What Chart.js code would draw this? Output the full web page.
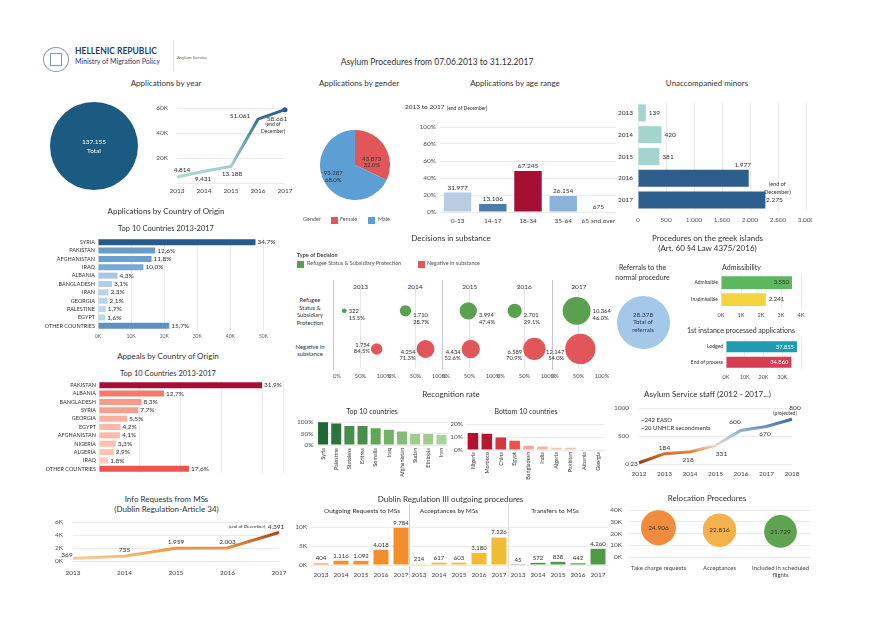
<!DOCTYPE html>
<html>
<head>
<meta charset="utf-8">
<script src="https://cdn.jsdelivr.net/npm/chart.js@4.4.1/dist/chart.umd.min.js"></script>
<style>
html, body { margin: 0; background: #fff; }
#board { position: relative; width: 877px; height: 620px; overflow: hidden; font-family: Lato, "Open Sans", sans-serif; color: #333; }
#board canvas { position: absolute; }
.t { position: absolute; white-space: nowrap; line-height: 1; }
.bx { position: absolute; }
</style>
</head>
<body>
<div id="board"></div>
<script>
// ---- data ----
const yearLabels = ['2013', '2014', '2015', '2016', '2017'];
const applicationsByYear = [4814, 9431, 13188, 51061, 58661];
const totalApplications = 137155;

const genderLabels = ['Female', 'Male'];
const genderCounts = [43873, 93287];
const genderShares = [32.0, 68.0];

const ageLabels = ['0-13', '14-17', '18-34', '35-64', '65 and over'];
const ageCounts = [31977, 13106, 67245, 26154, 675];

const minorYears = ['2013', '2014', '2015', '2016', '2017'];
const minorCounts = [139, 420, 381, 1977, 2275];

const originCountries = ['SYRIA', 'PAKISTAN', 'AFGHANISTAN', 'IRAQ', 'ALBANIA', 'BANGLADESH', 'IRAN', 'GEORGIA', 'PALESTINE', 'EGYPT', 'OTHER COUNTRIES'];
const originShares = [34.7, 12.6, 11.8, 10.0, 4.3, 3.1, 2.3, 2.1, 1.7, 1.6, 15.7];
const originTicks = [0, 10000, 20000, 30000, 40000, 50000];

const decisionYears = ['2013', '2014', '2015', '2016', '2017'];
const refugeeCounts = [322, 1710, 3994, 2701, 10364];
const negativeCounts = [1754, 4254, 4434, 6589, 12147];

const referralsTotal = 28378;
const admissLabels = ['Admissible', 'Inadmissible'];
const admissCounts = [3550, 2241];
const instanceLabels = ['Lodged', 'End of process'];
const instanceCounts = [37855, 34860];

const appealCountries = ['PAKISTAN', 'ALBANIA', 'BANGLADESH', 'SYRIA', 'GEORGIA', 'EGYPT', 'AFGHANISTAN', 'NIGERIA', 'ALGERIA', 'IRAQ', 'OTHER COUNTRIES'];
const appealShares = [31.9, 12.7, 8.3, 7.7, 5.5, 4.2, 4.1, 3.3, 2.9, 1.8, 17.6];

const topCountries = ['Syria', 'Palestine', 'Stateless', 'Eritrea', 'Somalia', 'Iraq', 'Afghanistan', 'Sudan', 'Ethiopia', 'Iran'];
const topRates = [99, 94, 83, 83, 73, 67, 59, 48, 48, 44];
const bottomCountries = ['Nigeria', 'Morocco', 'China', 'Egypt', 'Bangladesh', 'India', 'Algeria', 'Pakistan', 'Albania', 'Georgia'];
const bottomRates = [13.0, 12.5, 9.7, 7.2, 3.3, 2.6, 1.8, 1.8, 0.3, 0.2];

const staffYears = ['2012', '2013', '2014', '2015', '2016', '2017', '2018'];
const staffCounts = [23, 184, 218, 331, 600, 670, 800];

const infoYears = ['2013', '2014', '2015', '2016', '2017'];
const infoRequests = [369, 735, 1959, 2003, 4391];

const dublinYears = ['2013', '2014', '2015', '2016', '2017'];
const outgoingRequests = [404, 1116, 1092, 4018, 9784];
const acceptances = [214, 617, 603, 3180, 7226];
const transfers = [45, 572, 838, 442, 4260];

const relocationLabels = ['Take charge requests', 'Acceptances', 'Included in scheduled flights'];
const relocationCounts = [24906, 22816, 21729];

// ---- helpers ----
const board = document.getElementById('board');
const FONT = 'Lato, "Open Sans", sans-serif';
Chart.defaults.font.family = FONT;
Chart.defaults.font.size = 6.5;
Chart.defaults.color = '#555';
Chart.defaults.animation = false;
Chart.defaults.responsive = false;
Chart.defaults.maintainAspectRatio = false;
Chart.defaults.layout.autoPadding = false;
Chart.defaults.plugins.legend.display = false;
Chart.defaults.plugins.tooltip.enabled = false;

const fmt = n => String(Math.round(n)).replace(/\B(?=(\d{3})+(?!\d))/g, '.');
const pctComma = v => v.toFixed(1).replace('.', ',') + '%';
const pctDot = v => v.toFixed(1) + '%';

// fixed axis sizes so that each plot area lands where the dashboard has it
const fitY = w => s => { s.width = w; s.paddingTop = 0; s.paddingBottom = 0; };
const fitX = h => s => { s.height = h; s.paddingLeft = 0; s.paddingRight = 0; };

function T(s, x, y, o = {}) {
  const d = document.createElement('div');
  d.className = 't';
  d.textContent = s;
  const al = o.align || 'center';
  const tx = al === 'center' ? '-50%' : al === 'right' ? '-100%' : '0';
  d.style.left = x + 'px';
  d.style.top = y + 'px';
  d.style.fontSize = (o.size || 8) + 'px';
  d.style.color = o.color || '#333';
  d.style.fontWeight = o.bold ? 700 : 400;
  d.style.transform = `translate(${tx},-50%)`;
  board.appendChild(d);
}

function box(x, y, w, h, color, extra) {
  const d = document.createElement('div');
  d.className = 'bx';
  d.style.cssText = `left:${x}px;top:${y}px;width:${w}px;height:${h}px;background:${color};${extra || ''}`;
  board.appendChild(d);
}

function chart(x, y, w, h, cfg) {
  const c = document.createElement('canvas');
  c.width = w;
  c.height = h;
  c.style.left = x + 'px';
  c.style.top = y + 'px';
  board.appendChild(c);
  return new Chart(c, cfg);
}

function hex2rgb(h) {
  const n = parseInt(h.slice(1), 16);
  return [(n >> 16) & 255, (n >> 8) & 255, n & 255];
}
function ramp(stops, t) {
  t = Math.max(0, Math.min(1, t));
  for (let i = 1; i < stops.length; i++) {
    if (t <= stops[i][0]) {
      const a = hex2rgb(stops[i - 1][1]), b = hex2rgb(stops[i][1]);
      const u = (t - stops[i - 1][0]) / (stops[i][0] - stops[i - 1][0]);
      return 'rgb(' + a.map((v, k) => Math.round(v + (b[k] - v) * u)).join(',') + ')';
    }
  }
  return stops[stops.length - 1][1];
}

// gradient along the value axis, used by the line charts
function vGrad(stops, max) {
  return ctx => {
    const ch = ctx.chart;
    if (!ch.chartArea) return stops[0][1];
    const y = ch.scales.y;
    const g = ch.ctx.createLinearGradient(0, y.getPixelForValue(0), 0, y.getPixelForValue(max));
    stops.forEach(s => g.addColorStop(s[0], s[1]));
    return g;
  };
}

// value labels drawn next to the chart's own elements
Chart.register({
  id: 'markLabels',
  afterDatasetsDraw(ch) {
    const c = ch.ctx;
    ch.data.datasets.forEach((ds, di) => {
      if (!ds.marks) return;
      const meta = ch.getDatasetMeta(di);
      ds.marks.forEach(m => {
        const el = meta.data[m.i];
        if (!el) return;
        const p = m.center ? el.getCenterPoint() : { x: el.x, y: el.y };
        c.save();
        c.font = `${m.bold ? 'bold ' : ''}${m.size || 6.5}px ${FONT}`;
        c.fillStyle = m.color || '#333';
        c.textAlign = m.align || 'center';
        c.textBaseline = 'middle';
        c.fillText(m.text, p.x + (m.dx || 0), p.y + (m.dy || 0));
        c.restore();
      });
    });
  }
});

const noBorder = { display: false };
const hideGrid = { display: false, drawTicks: false };
const lightGrid = { color: '#ececec', drawTicks: false };

// ---- header ----
box(43, 47, 24, 23, 'transparent', 'border:1.5px solid #8a97ab;border-radius:50%');
box(50, 53, 10, 11, 'transparent', 'border:1px solid #8a97ab');
T('HELLENIC REPUBLIC', 75, 51, { size: 8.5, bold: true, color: '#1f3d6f', align: 'left' });
T('Ministry of Migration Policy', 75, 61, { size: 7, color: '#1f3d6f', align: 'left' });
box(173, 40, 1, 31, '#e2e2e2');
T('Asylum Service', 177, 58, { size: 4.5, color: '#555', align: 'left' });
T('Asylum Procedures from 07.06.2013 to 31.12.2017', 437, 62, { size: 8.5 });

// ---- applications by year ----
T('Applications by year', 166, 83);
chart(50, 102, 88, 88, {
  type: 'pie',
  data: { labels: ['Total'], datasets: [{ data: [totalApplications], backgroundColor: '#1b5b82', borderWidth: 0 }] }
});
T(fmt(totalApplications), 94, 142, { size: 6.5, color: '#fff' });
T('Total', 94, 151, { size: 6.5, color: '#fff' });

const yearMarks = [
  { i: 0, text: fmt(applicationsByYear[0]), dx: 5, dy: -7 },
  { i: 1, text: fmt(applicationsByYear[1]), dx: -1, dy: 8 },
  { i: 2, text: fmt(applicationsByYear[2]), dx: 1, dy: 7 },
  { i: 3, text: fmt(applicationsByYear[3]), dx: -18, dy: -3 },
  { i: 4, text: fmt(applicationsByYear[4]), dx: -8, dy: 9 },
  { i: 4, text: '(end of', dx: -12, dy: 15, size: 5 },
  { i: 4, text: 'December)', dx: -12, dy: 22, size: 5 }
];
chart(145, 100, 150, 97, {
  type: 'line',
  data: {
    labels: yearLabels,
    datasets: [{
      data: applicationsByYear,
      borderColor: vGrad([[0, '#b3ded7'], [0.25, '#9ccfc7'], [0.85, '#3d6f9a'], [1, '#2a5a8c']], 60000),
      borderWidth: 3,
      pointRadius: [0, 0, 0, 0, 2.5],
      pointBackgroundColor: '#2a5a8c',
      pointBorderWidth: 0,
      clip: false,
      marks: yearMarks
    }]
  },
  options: {
    layout: { padding: { top: 8, right: 10 } },
    scales: {
      x: { offset: false, grid: hideGrid, border: noBorder, ticks: { padding: 4, color: '#444' }, afterFit: fitX(14) },
      y: { min: 0, max: 60000, grid: lightGrid, border: noBorder,
        ticks: { stepSize: 20000, padding: 9, autoSkip: false, callback: v => (v ? v / 1000 + 'K' : '') },
        afterFit: fitY(32) }
    }
  }
});

// ---- applications by gender ----
T('Applications by gender', 359, 83);
chart(320, 130, 70, 70, {
  type: 'pie',
  data: {
    labels: genderLabels,
    datasets: [{
      data: genderCounts,
      backgroundColor: ['#e15759', '#5b9fd4'],
      borderWidth: 0,
      marks: [
        { i: 0, center: true, text: fmt(genderCounts[0]), dx: 2, dy: 3, size: 6 },
        { i: 0, center: true, text: pctDot(genderShares[0]), dx: 2, dy: 9, size: 6 },
        { i: 1, center: true, text: fmt(genderCounts[1]), dx: -7, dy: -1, size: 6 },
        { i: 1, center: true, text: pctDot(genderShares[1]), dx: -7, dy: 6, size: 6 }
      ]
    }]
  }
});
T('Gender', 303, 220, { size: 5.5, align: 'left', color: '#555' });
box(331, 216.5, 7, 7, '#e15759');
T(genderLabels[0], 340, 220, { size: 5.5, align: 'left', color: '#555' });
box(368, 216.5, 7, 7, '#5b9fd4');
T(genderLabels[1], 378, 220, { size: 5.5, align: 'left', color: '#555' });

// ---- applications by age range ----
T('Applications by age range', 515, 83);
T('2013 to 2017', 405, 107, { size: 6.5, align: 'left' });
T('(end of December)', 447, 107.5, { size: 5, align: 'left' });
const ageTotal = ageCounts.reduce((a, b) => a + b, 0);
chart(410, 120, 206, 108, {
  type: 'bar',
  data: {
    labels: ageLabels,
    datasets: [{
      data: ageCounts.map(v => v / ageTotal * 100),
      backgroundColor: ['#b8cde0', '#4d7cac', '#a50f34', '#8bb3d9', '#c9d9e9'],
      barPercentage: 0.78,
      categoryPercentage: 1,
      marks: ageCounts.map((v, i) => ({ i, text: fmt(v), dy: -5 }))
    }]
  },
  options: {
    layout: { padding: { top: 7 } },
    scales: {
      x: { grid: hideGrid, border: noBorder, ticks: { padding: 5, color: '#444', autoSkip: false, maxRotation: 0 }, afterFit: fitX(16) },
      y: { min: 0, max: 100, grid: lightGrid, border: noBorder, ticks: { stepSize: 20, padding: 4, autoSkip: false, callback: v => v + '%' }, afterFit: fitY(30) }
    }
  }
});

// ---- unaccompanied minors ----
T('Unaccompanied minors', 707, 83);
chart(605, 102, 207, 123, {
  type: 'bar',
  data: {
    labels: minorYears,
    datasets: [{
      data: minorCounts,
      backgroundColor: ['#a3d5cf', '#a3d5cf', '#a3d5cf', '#2c5f8d', '#2c5f8d'],
      barPercentage: 0.78,
      categoryPercentage: 1,
      marks: [
        { i: 0, text: fmt(minorCounts[0]), align: 'left', dx: 3 },
        { i: 1, text: fmt(minorCounts[1]), align: 'left', dx: 3 },
        { i: 2, text: fmt(minorCounts[2]), align: 'left', dx: 3 },
        { i: 3, text: fmt(minorCounts[3]), dx: -6, dy: -13 },
        { i: 4, text: '(end of', dx: 12, dy: -16, size: 5.5 },
        { i: 4, text: 'December)', dx: 12, dy: -8, size: 5.5 },
        { i: 4, text: fmt(minorCounts[4]), dx: 9, dy: 0 }
      ]
    }]
  },
  options: {
    indexAxis: 'y',
    layout: { padding: { right: 6 } },
    scales: {
      x: { min: 0, max: 3000, grid: lightGrid, border: noBorder,
        ticks: { stepSize: 500, padding: 5, maxRotation: 0, autoSkip: false, callback: v => fmt(v) },
        afterFit: fitX(14) },
      y: { grid: hideGrid, border: noBorder, ticks: { padding: 5, color: '#333', font: { size: 6.5 } }, afterFit: fitY(33) }
    }
  }
});

// ---- applications by country of origin ----
T('Applications by Country of Origin', 166, 211);
T('Top 10 Countries 2013-2017', 166, 229, { size: 7.5 });
const blueStops = [[0, '#c7e0f1'], [0.35, '#6b9dca'], [1, '#275a8a']];
const originMax = Math.max(...originShares);
chart(28, 236, 260, 106, {
  type: 'bar',
  data: {
    labels: originCountries,
    datasets: [{
      data: originShares.map(s => s / 100 * totalApplications),
      backgroundColor: originShares.map(s => ramp(blueStops, s / originMax)),
      barPercentage: 0.72,
      categoryPercentage: 1,
      marks: originShares.map((s, i) => ({ i, text: pctComma(s), align: 'left', dx: 2 }))
    }]
  },
  options: {
    indexAxis: 'y',
    layout: { padding: { top: 2, right: 8 } },
    scales: {
      x: { min: 0, max: 55000, grid: lightGrid, border: noBorder,
        afterBuildTicks(s) { s.ticks = originTicks.map(v => ({ value: v })); },
        ticks: { padding: 3.5, maxRotation: 0, autoSkip: false, color: '#666', font: { size: 5 }, callback: v => v / 1000 + 'K' },
        afterFit: fitX(12) },
      y: { grid: hideGrid, border: noBorder, ticks: { padding: 3, color: '#333', font: { size: 5.5 }, autoSkip: false }, afterFit: fitY(70) }
    }
  }
});

// ---- decisions in substance ----
T('Decisions in substance', 451, 238);
T('Type of Decision', 297, 256, { size: 5.5, align: 'left', bold: true, color: '#444' });
box(297, 260.5, 7, 7, '#59a14f');
T('Refugee Status & Subsidiary Protection', 307, 264, { size: 5.5, align: 'left', color: '#555' });
box(418, 260.5, 7, 7, '#e15759');
T('Negative in substance', 427, 264, { size: 5.5, align: 'left', color: '#555' });
['Refugee', 'Status &', 'Subsidiary', 'Protection'].forEach((s, k) => T(s, 310, 300 + k * 7.5, { size: 5.8 }));
['Negative in', 'substance'].forEach((s, k) => T(s, 310, 346.5 + k * 7, { size: 5.8 }));
[333, 442, 552].forEach(x => box(x, 280, 1, 90, '#c8c8c8'));

const refugeeDy = [0, 4, 4, 4, 0];
const negativeDy = [-4, 3, 3, 3, 3];
decisionYears.forEach((yr, k) => {
  const left = 333 + k * 54.6;
  const tot = refugeeCounts[k] + negativeCounts[k];
  const rShare = refugeeCounts[k] / tot * 100;
  const nShare = negativeCounts[k] / tot * 100;
  const rR = 0.137 * Math.sqrt(refugeeCounts[k]);
  const nR = 0.137 * Math.sqrt(negativeCounts[k]);
  T(yr, left + 27.5, 287, { size: 6.5 });
  chart(left - 16, 288, 87, 94, {
    type: 'bubble',
    data: {
      datasets: [
        { data: [{ x: rShare, y: 2, r: rR }], backgroundColor: '#59a14f', borderWidth: 0, clip: false,
          marks: [
            { i: 0, text: fmt(refugeeCounts[k]), align: 'left', dx: rR + 2, dy: refugeeDy[k], size: 5.8 },
            { i: 0, text: pctDot(rShare), align: 'left', dx: rR + 2, dy: refugeeDy[k] + 7, size: 5.8 }
          ] },
        { data: [{ x: nShare, y: 1, r: nR }], backgroundColor: '#e15759', borderWidth: 0, clip: false,
          marks: [
            { i: 0, text: fmt(negativeCounts[k]), align: 'right', dx: -(nR + 1), dy: negativeDy[k], size: 5.8 },
            { i: 0, text: pctDot(nShare), align: 'right', dx: -(nR + 1), dy: negativeDy[k] + 6.5, size: 5.8 }
          ] }
      ]
    },
    options: {
      layout: { padding: { left: 20, right: 20 } },
      scales: {
        x: { min: 0, max: 100, border: noBorder,
          grid: { drawTicks: false, color: c => (c.tick && c.tick.value === 50 ? '#e4e4e4' : 'rgba(0,0,0,0)') },
          ticks: { stepSize: 50, padding: 5, maxRotation: 0, autoSkip: false, font: { size: 5.8 }, callback: v => v + '%' },
          afterFit: fitX(14) },
        y: { display: false, min: 0.5, max: 2.6 }
      }
    }
  });
});

// ---- procedures on the greek islands ----
T('Procedures on the greek islands', 707.5, 238);
T('(Art. 60 §4 Law 4375/2016)', 707.5, 248);
T('Referrals to the', 642.5, 267, { size: 7 });
T('normal procedure', 642.5, 277, { size: 7 });
chart(616.5, 295.5, 53, 53, {
  type: 'pie',
  data: { labels: ['Referrals'], datasets: [{ data: [referralsTotal], backgroundColor: '#a4c8e8', borderWidth: 0 }] }
});
T(fmt(referralsTotal), 643, 315, { size: 6.5, color: '#23395b' });
T('Total of', 643, 322, { size: 6, color: '#23395b' });
T('referrals', 643, 330, { size: 6, color: '#23395b' });

T('Admissibility', 741.5, 267, { size: 7 });
chart(660, 274, 147, 46, {
  type: 'bar',
  data: {
    labels: admissLabels,
    datasets: [{
      data: admissCounts,
      backgroundColor: ['#5cb85c', '#f5d33f'],
      barPercentage: 0.75,
      categoryPercentage: 1,
      marks: [
        { i: 0, text: fmt(admissCounts[0]), align: 'right', dx: -3, size: 6 },
        { i: 1, text: fmt(admissCounts[1]), align: 'left', dx: 3, size: 6 }
      ]
    }]
  },
  options: {
    indexAxis: 'y',
    layout: { padding: { right: 6 } },
    scales: {
      x: { min: 0, max: 4000, grid: lightGrid, border: noBorder,
        ticks: { stepSize: 1000, padding: 4, maxRotation: 0, autoSkip: false, font: { size: 5.5 }, callback: v => v / 1000 + 'K' },
        afterFit: fitX(12) },
      y: { grid: hideGrid, border: noBorder, ticks: { padding: 3, color: '#333', font: { size: 5 } }, afterFit: fitY(61) }
    }
  }
});

T('1st instance processed applications', 741, 330, { size: 7 });
chart(665, 339, 142, 43, {
  type: 'bar',
  data: {
    labels: instanceLabels,
    datasets: [{
      data: instanceCounts,
      backgroundColor: ['#1f9bb3', '#d43d55'],
      barPercentage: 0.72,
      categoryPercentage: 1,
      marks: instanceCounts.map((v, i) => ({ i, text: fmt(v), align: 'right', dx: -3, color: '#fff', size: 5.8 }))
    }]
  },
  options: {
    indexAxis: 'y',
    layout: { padding: { right: 6 } },
    scales: {
      x: { min: 0, max: 40000, grid: lightGrid, border: noBorder,
        ticks: { stepSize: 10000, padding: 3.5, maxRotation: 0, autoSkip: false, font: { size: 5.5 }, callback: v => (v >= 40000 ? '' : v / 1000 + 'K') },
        afterFit: fitX(12) },
      y: { grid: hideGrid, border: noBorder, ticks: { padding: 3, color: '#333', font: { size: 5 } }, afterFit: fitY(61) }
    }
  }
});

// ---- appeals by country of origin ----
T('Appeals by Country of Origin', 168, 356);
T('Top 10 Countries 2013-2017', 168, 373.5, { size: 7.5 });
const redStops = [[0, '#fdd9cc'], [0.3, '#f6917e'], [0.55, '#e8574a'], [1, '#a50f35']];
const appealMax = Math.max(...appealShares);
chart(29, 379, 259, 97, {
  type: 'bar',
  data: {
    labels: appealCountries,
    datasets: [{
      data: appealShares,
      backgroundColor: appealShares.map(s => ramp(redStops, s / appealMax)),
      barPercentage: 0.72,
      categoryPercentage: 1,
      marks: appealShares.map((s, i) => ({ i, text: pctComma(s), align: 'left', dx: 2 }))
    }]
  },
  options: {
    indexAxis: 'y',
    layout: { padding: { top: 2, right: 5 } },
    scales: {
      x: { min: 0, max: 36, grid: lightGrid, border: noBorder, ticks: { display: false, stepSize: 8 }, afterFit: fitX(3) },
      y: { grid: hideGrid, border: noBorder, ticks: { padding: 3, color: '#333', font: { size: 5.5 }, autoSkip: false }, afterFit: fitY(70) }
    }
  }
});

// ---- recognition rate ----
T('Recognition rate', 451, 394);
T('Top 10 countries', 372, 411, { size: 7 });
T('Bottom 10 countries', 526, 411, { size: 7 });
const greenStops = [[0, '#b0daa0'], [0.5, '#6aad5e'], [1, '#1d6536']];
chart(285, 417, 163, 61, {
  type: 'bar',
  data: {
    labels: topCountries,
    datasets: [{ data: topRates, backgroundColor: topRates.map(v => ramp(greenStops, (v - 40) / 60)), barPercentage: 0.76, categoryPercentage: 1 }]
  },
  options: {
    layout: { padding: { top: 4 } },
    scales: {
      x: { grid: hideGrid, border: noBorder, ticks: { autoSkip: false, maxRotation: 90, minRotation: 90, padding: 3, color: '#333', font: { size: 5.5 } }, afterFit: fitX(33) },
      y: { min: 0, max: 105, grid: lightGrid, border: noBorder,
        ticks: { stepSize: 50, includeBounds: false, autoSkip: false, padding: 3, callback: v => v + '%' },
        afterFit: fitY(31.5) }
    }
  }
});
const pinkStops = [[0, '#fde0d2'], [0.25, '#f6a98f'], [0.55, '#e8574a'], [1, '#b2102f']];
const bottomMax = Math.max(...bottomRates);
chart(440, 417, 165, 63, {
  type: 'bar',
  data: {
    labels: bottomCountries,
    datasets: [{ data: bottomRates, backgroundColor: bottomRates.map(v => ramp(pinkStops, v / bottomMax)), barPercentage: 0.76, categoryPercentage: 1 }]
  },
  options: {
    layout: { padding: { top: 4.4 } },
    scales: {
      x: { grid: hideGrid, border: noBorder, ticks: { autoSkip: false, maxRotation: 90, minRotation: 90, padding: 2, color: '#333', font: { size: 5.5 } }, afterFit: fitX(30) },
      y: { min: 0, max: 22, grid: lightGrid, border: noBorder,
        ticks: { stepSize: 10, includeBounds: false, autoSkip: false, padding: 3, callback: v => v + '%' },
        afterFit: fitY(26) }
    }
  }
});

// ---- asylum service staff ----
T('Asylum Service staff (2012 - 2017...)', 707.5, 393.5);
T('~242 EASO', 641, 420, { size: 6, align: 'left' });
T('~20 UNHCR secondments', 641, 428, { size: 6, align: 'left' });
const staffDx = [-5, 0, -2, 6, -6, -1.5, 3];
const staffDy = [1, -6, 8, 8, -8, 7, -11];
const staffMarks = staffCounts.map((v, i) => ({ i, text: fmt(v), dx: staffDx[i], dy: staffDy[i] }));
staffMarks.push({ i: 6, text: '(projected)', dx: -7, dy: -6, size: 5 });
chart(610, 403, 197, 75, {
  type: 'line',
  data: {
    labels: staffYears,
    datasets: [{
      data: staffCounts,
      borderColor: vGrad([[0.02, '#9a3a14'], [0.18, '#d86b28'], [0.22, '#e5843a'], [0.33, '#e9dcd2'], [0.6, '#8fafcf'], [0.67, '#6a8fb8'], [0.85, '#2f5f90']], 1000),
      borderWidth: 3,
      pointRadius: 0,
      clip: false,
      marks: staffMarks
    }]
  },
  options: {
    layout: { padding: { top: 5, right: 15 } },
    scales: {
      x: { offset: false, grid: hideGrid, border: noBorder, ticks: { padding: 6, color: '#444', autoSkip: false, maxRotation: 0 }, afterFit: fitX(14) },
      y: { min: 0, max: 1000, grid: lightGrid, border: noBorder, ticks: { stepSize: 500, padding: 10, autoSkip: false, callback: v => String(v) }, afterFit: fitY(29) }
    }
  }
});

// ---- info requests ----
T('Info Requests from MSs', 166.5, 499);
T('(Dublin Regulation-Article 34)', 166.5, 508.5);
const infoDx = [-6, 0, 0, 0, -3];
const infoDy = [-4, -6, -6, -6, -6];
const infoMarks = infoRequests.map((v, i) => ({ i, text: fmt(v), dx: infoDx[i], dy: infoDy[i] }));
infoMarks.push({ i: 4, text: '(end of December)', dx: -32, dy: -6, size: 4.5 });
chart(40, 517, 254, 58, {
  type: 'line',
  data: {
    labels: infoYears,
    datasets: [{
      data: infoRequests,
      borderColor: vGrad([[0.06, '#f8cf98'], [0.12, '#f5bb78'], [0.33, '#e99545'], [0.73, '#a9461b']], 6000),
      borderWidth: 3,
      pointRadius: 0,
      clip: false,
      marks: infoMarks
    }]
  },
  options: {
    layout: { padding: { top: 5, right: 15 } },
    scales: {
      x: { offset: false, grid: hideGrid, border: noBorder, ticks: { padding: 8, color: '#444' }, afterFit: fitX(14) },
      y: { min: 0, max: 6000, grid: lightGrid, border: noBorder, ticks: { stepSize: 2000, padding: 10, autoSkip: false, callback: v => v / 1000 + 'K' }, afterFit: fitY(33) }
    }
  }
});

// ---- dublin regulation III ----
T('Dublin Regulation III outgoing procedures', 450.5, 499);
T('Outgoing Requests to MSs', 362, 511, { size: 6.5 });
T('Acceptances by MSs', 449, 511, { size: 6.5 });
T('Transfers to MSs', 555, 511, { size: 6.5 });
box(409, 504, 1, 74, '#d0d0d0');
box(508, 504, 1, 74, '#e0e0e0');
function dublinChart(x, w, values, color, showAxis) {
  chart(x, 520, w, 58, {
    type: 'bar',
    data: {
      labels: dublinYears,
      datasets: [{
        data: values,
        backgroundColor: color,
        barPercentage: 0.75,
        categoryPercentage: 1,
        marks: values.map((v, i) => ({ i, text: fmt(v), dy: -5, size: 6 }))
      }]
    },
    options: {
      layout: { padding: { top: 7 } },
      scales: {
        x: { grid: hideGrid, border: noBorder, ticks: { padding: 6, color: '#444', autoSkip: false, maxRotation: 0 }, afterFit: fitX(13) },
        y: { min: 0, max: 10000, grid: lightGrid, border: noBorder,
          ticks: { display: showAxis, stepSize: 5000, padding: 4, autoSkip: false, callback: v => v / 1000 + 'K' },
          afterFit: fitY(showAxis ? 26 : 0) }
      }
    }
  });
}
dublinChart(285, 126, outgoingRequests, '#f28e2b', true);
dublinChart(409, 100, acceptances, '#f1bc35', false);
dublinChart(508, 100, transfers, '#4e9a45', false);

// ---- relocation procedures ----
T('Relocation Procedures', 707, 498);
function wrap(s, n) {
  const out = [];
  let line = '';
  s.split(' ').forEach(w => {
    if (line && (line + ' ' + w).length > n) { out.push(line); line = w; } else { line = line ? line + ' ' + w : w; }
  });
  out.push(line);
  return out.length > 1 ? out : out[0];
}
chart(600, 505, 211, 78, {
  type: 'bubble',
  data: {
    labels: relocationLabels,
    datasets: [{
      data: relocationCounts.map((v, i) => ({ x: i, y: v, r: 17.5 * Math.sqrt(v / relocationCounts[0]) })),
      backgroundColor: ['#f28c3c', '#f5b24c', '#5ea350'],
      borderWidth: 0,
      clip: false,
      marks: relocationCounts.map((v, i) => ({ i, text: fmt(v), size: 6.5 }))
    }]
  },
  options: {
    layout: { padding: { top: 5 } },
    scales: {
      x: { type: 'category', offset: true, grid: hideGrid, border: noBorder,
        ticks: { padding: 7, color: '#444', autoSkip: false, maxRotation: 0, font: { size: 6 }, callback: (v, i) => wrap(relocationLabels[i], 22) },
        afterFit: fitX(26) },
      y: { min: 0, max: 40000, grid: lightGrid, border: noBorder, ticks: { stepSize: 10000, padding: 6, autoSkip: false, callback: v => v / 1000 + 'K' }, afterFit: fitY(28) }
    }
  }
});
</script>
</body>
</html>
